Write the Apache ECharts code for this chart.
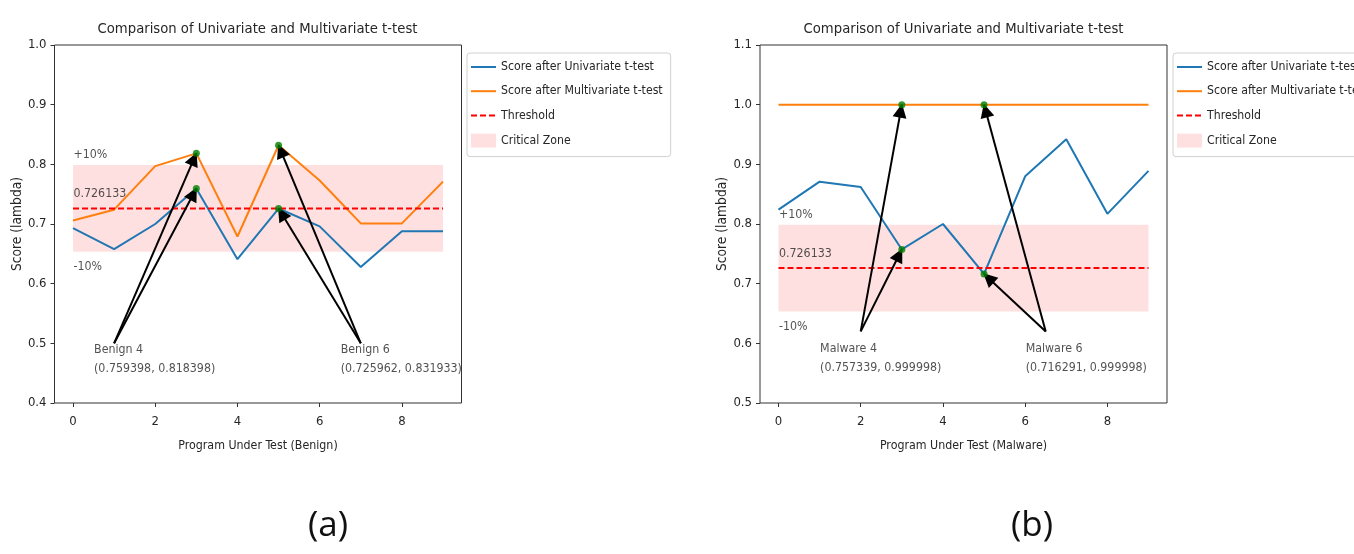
<!DOCTYPE html>
<html>
<head>
<meta charset="utf-8">
<script src="https://cdn.jsdelivr.net/npm/echarts@6/dist/echarts.min.js"></script>
<style>
html,body{margin:0;padding:0;background:#fff;overflow:hidden;}
#c{width:1354px;height:554px;}
</style>
</head>
<body>
<div id="c"></div>
<script>
// ---- data ----
const xs = [0, 1, 2, 3, 4, 5, 6, 7, 8, 9];
const xTicks = [0, 2, 4, 6, 8];
const benignUni = [0.693, 0.658, 0.700, 0.759398, 0.641, 0.725962, 0.696, 0.628, 0.688, 0.688];
const benignMulti = [0.706, 0.724, 0.797, 0.818398, 0.679, 0.831933, 0.773, 0.701, 0.701, 0.771];
const malwareUni = [0.824, 0.871, 0.862, 0.757339, 0.800, 0.716291, 0.880, 0.942, 0.817, 0.889];
const malwareMulti = [0.999998, 0.999998, 0.999998, 0.999998, 0.999998, 0.999998, 0.999998, 0.999998, 0.999998, 0.999998];
const threshold = 0.726133;
const zoneLow = 0.653520;
const zoneHigh = 0.798746;
const highlightIdx = [3, 5];
const benignYTicks = [0.4, 1.0];
const malwareYTicks = [0.5, 1.1];
const zoneTexts = ['+10%', '0.726133', '-10%'];
const zoneTextY = [0.816, 0.750, 0.628];
const benignNotes = ['Benign 4\n(0.759398, 0.818398)', 'Benign 6\n(0.725962, 0.831933)'];
const benignNoteAt = [[0.5, 0.474], [6.5, 0.474]];
const benignArrowFrom = [[1, 0.5], [7, 0.5]];
const malwareNotes = ['Malware 4\n(0.757339, 0.999998)', 'Malware 6\n(0.716291, 0.999998)'];
const malwareNoteAt = [[1.0, 0.575], [6.0, 0.575]];
const malwareArrowFrom = [[2, 0.62], [6.5, 0.62]];
const seriesNames = ['Score after Univariate t-test', 'Score after Multivariate t-test', 'Threshold', 'Critical Zone'];
const titleText = 'Comparison of Univariate and Multivariate t-test';
const xNames = ['Program Under Test (Benign)', 'Program Under Test (Malware)'];
const yName = 'Score (lambda)';
const panelLabels = ['(a)', '(b)'];

// ---- styles ----
const FONT = "'DejaVu Sans Condensed', 'Liberation Sans Narrow', 'DejaVu Sans', sans-serif";
const TXT = '#262626';
const BLUE = '#1f77b4', ORANGE = '#ff7f0e', RED = '#ff0000', GREEN = '#008000';
const ZONE = 'rgba(255,0,0,0.12)';

function xAxisFor(gi) {
  return {
    gridIndex: gi, type: 'value', min: -0.45, max: 9.45,
    splitLine: {show: false},
    axisLine: {show: false, onZero: false},
    axisTick: {show: true, customValues: xTicks, length: 4, lineStyle: {color: '#333'}},
    axisLabel: {customValues: xTicks, color: TXT, fontFamily: FONT, fontSize: 13, margin: 12},
    name: xNames[gi], nameLocation: 'middle', nameGap: 37,
    nameTextStyle: {color: TXT, fontFamily: FONT, fontSize: 12.3}
  };
}
function yAxisFor(gi, range) {
  return {
    gridIndex: gi, type: 'value', min: range[0], max: range[1], interval: 0.1,
    splitLine: {show: false},
    axisLine: {show: false, onZero: false},
    axisTick: {show: true, length: 4, lineStyle: {color: '#333'}},
    axisLabel: {color: TXT, fontFamily: FONT, fontSize: 13, margin: 8, formatter: v => v.toFixed(1)},
    name: yName, nameLocation: 'middle', nameGap: 30, nameRotate: 90,
    nameTextStyle: {color: TXT, fontFamily: FONT, fontSize: 13.7}
  };
}

function panelSeries(gi, uni, multi, notes, noteAt, arrowFrom) {
  const pairs = a => xs.map((x, i) => [x, a[i]]);
  const arrows = [];
  highlightIdx.forEach((hi, k) => {
    [uni, multi].forEach(arr => {
      arrows.push([
        {coord: arrowFrom[k], symbol: 'none'},
        {coord: [xs[hi], arr[hi]], symbol: 'triangle', symbolSize: 14, symbolOffset: [0, 6]}
      ]);
    });
  });
  const dots = [];
  highlightIdx.forEach(hi => { dots.push([xs[hi], uni[hi]]); dots.push([xs[hi], multi[hi]]); });
  const base = {xAxisIndex: gi, yAxisIndex: gi, silent: true, animation: false};
  return [
    Object.assign({}, base, {
      name: seriesNames[3], type: 'custom', z: 1,
      itemStyle: {color: ZONE},
      data: [[xs[0], zoneLow, xs[xs.length - 1], zoneHigh]],
      renderItem: (params, api) => {
        const p0 = api.coord([api.value(0), api.value(3)]);
        const p1 = api.coord([api.value(2), api.value(1)]);
        return {type: 'rect', shape: {x: p0[0], y: p0[1], width: p1[0] - p0[0], height: p1[1] - p0[1]},
          style: {fill: ZONE}};
      }
    }),
    Object.assign({}, base, {
      name: seriesNames[0], type: 'line', z: 3, symbol: 'none', data: pairs(uni),
      itemStyle: {color: BLUE}, lineStyle: {color: BLUE, width: 2}
    }),
    Object.assign({}, base, {
      name: seriesNames[1], type: 'line', z: 3, symbol: 'none', data: pairs(multi),
      itemStyle: {color: ORANGE}, lineStyle: {color: ORANGE, width: 2}
    }),
    Object.assign({}, base, {
      name: seriesNames[2], type: 'line', z: 4, symbol: 'none',
      data: [[xs[0], threshold], [xs[xs.length - 1], threshold]],
      itemStyle: {color: RED}, lineStyle: {color: RED, width: 2, type: [6, 3]}
    }),
    Object.assign({}, base, {
      name: 'highlights', type: 'scatter', z: 6, symbol: 'circle', symbolSize: 7,
      itemStyle: {color: GREEN}, data: dots,
      markLine: {
        silent: true, animation: false, symbol: ['none', 'triangle'],
        label: {show: false},
        lineStyle: {color: '#000', width: 2, type: 'solid'},
        itemStyle: {color: '#000'},
        emphasis: {disabled: true},
        data: arrows
      }
    }),
    Object.assign({}, base, {
      name: 'texts', type: 'scatter', z: 7, symbolSize: 1,
      itemStyle: {color: 'rgba(0,0,0,0)'},
      label: {show: true, position: 'right', distance: 0, formatter: p => p.name,
        color: TXT, fontFamily: FONT, fontSize: 12.3, lineHeight: 19, align: 'left', verticalAlign: 'middle'},
      data: zoneTexts.map((t, i) => ({name: t, value: [xs[0], zoneTextY[i]]}))
        .concat(notes.map((t, i) => ({name: t, value: noteAt[i]})))
    })
  ];
}

function legendFor(left) {
  const noSym = {color: 'rgba(0,0,0,0)', borderColor: 'rgba(0,0,0,0)', borderWidth: 0};
  return {
    orient: 'vertical', left: left, top: 53, selectedMode: false,
    itemWidth: 25, itemHeight: 14, itemGap: 12.2,
    padding: [8, 8, 9, 3],
    backgroundColor: '#fff', borderColor: '#d0d0d0', borderWidth: 1, borderRadius: 3,
    textStyle: {color: TXT, fontFamily: FONT, fontSize: 12.2},
    data: [
      {name: seriesNames[0], itemStyle: noSym},
      {name: seriesNames[1], itemStyle: noSym},
      {name: seriesNames[2], itemStyle: noSym},
      {name: seriesNames[3], icon: 'rect', itemStyle: {color: ZONE}}
    ]
  };
}

const chart = echarts.init(document.getElementById('c'), null, {renderer: 'canvas'});
chart.setOption({
  animation: false,
  backgroundColor: '#fff',
  grid: [
    {left: 54.5, top: 45, width: 407, height: 358, show: true, borderColor: '#333', borderWidth: 1, backgroundColor: 'transparent'},
    {left: 760, top: 45, width: 407, height: 358, show: true, borderColor: '#333', borderWidth: 1, backgroundColor: 'transparent'}
  ],
  xAxis: [xAxisFor(0), xAxisFor(1)],
  yAxis: [yAxisFor(0, benignYTicks), yAxisFor(1, malwareYTicks)],
  legend: [legendFor(467), legendFor(1173)],
  graphic: [
    {type: 'text', x: 257.5, y: 29, style: {text: titleText, fill: TXT, font: "14.7px " + FONT, textAlign: 'center', textVerticalAlign: 'middle'}},
    {type: 'text', x: 963.5, y: 29, style: {text: titleText, fill: TXT, font: "14.7px " + FONT, textAlign: 'center', textVerticalAlign: 'middle'}},
    {type: 'text', x: 328, y: 526, style: {text: panelLabels[0], fill: '#111', font: "35px 'Open Sans', 'Noto Sans', sans-serif", textAlign: 'center', textVerticalAlign: 'middle'}},
    {type: 'text', x: 1032, y: 526, style: {text: panelLabels[1], fill: '#111', font: "35px 'Open Sans', 'Noto Sans', sans-serif", textAlign: 'center', textVerticalAlign: 'middle'}}
  ],
  series: panelSeries(0, benignUni, benignMulti, benignNotes, benignNoteAt, benignArrowFrom)
    .concat(panelSeries(1, malwareUni, malwareMulti, malwareNotes, malwareNoteAt, malwareArrowFrom))
});
</script>
</body>
</html>
